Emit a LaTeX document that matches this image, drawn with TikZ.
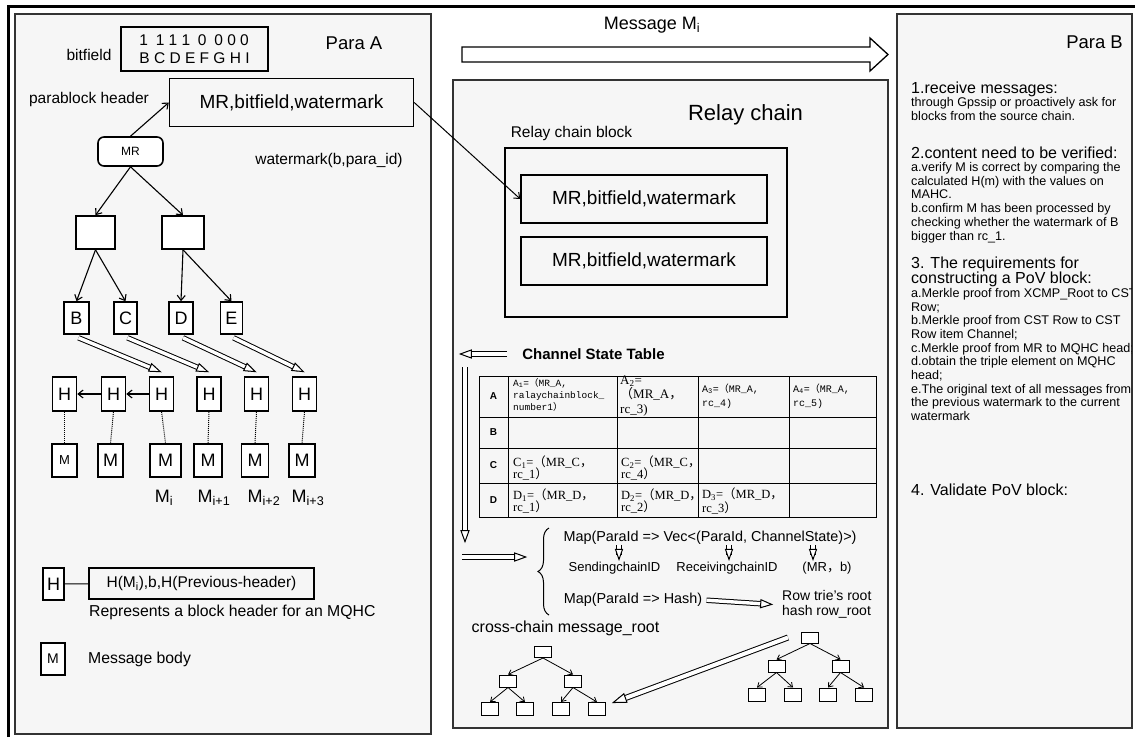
\documentclass[tikz,border=0pt]{standalone}
\usepackage{fontspec}
\setmainfont{Liberation Sans}
\setmonofont{Liberation Mono}
\newfontfamily\cjk{Noto Sans CJK SC}
\newfontfamily\serifcell{Liberation Serif}
\usetikzlibrary{arrows.meta,shapes.geometric,decorations.pathreplacing}
\newcommand{\fsz}[2]{\fontsize{#1}{#2}\selectfont}
\newcommand{\fw}[1]{{\cjk #1}}

\begin{document}
\begin{tikzpicture}[x=1pt,y=-1pt,
  >={Straight Barb[length=5pt,width=8pt]},
  panel/.style={draw=black!80,line width=1.5pt,fill=F6F6F6},
  box/.style={draw,line width=1.6pt,fill=white,inner sep=0pt},
  hbox/.style={box,minimum width=24,minimum height=34,font=\fsz{18}{18}},
  mbox/.style={box,minimum height=33,font=\fsz{18}{18}},
  frame/.style={draw,line width=1.4pt,inner sep=0pt},
  tnode/.style={draw,line width=1pt,fill=white,inner sep=0pt,minimum width=17,minimum height=12},
  arr/.style={->,line width=1.1pt},
  tarr/.style={->,line width=0.8pt,>={Straight Barb[length=4pt,width=6pt]}},
  dbl/.style={double,double distance=3.4pt,line width=1pt,shorten >=7pt},
  dtip/.style={pos=1,sloped,allow upside down,anchor=apex,isosceles triangle,isosceles triangle stretches,
    draw,fill=white,line width=1pt,inner sep=0pt,minimum width=8pt,minimum height=11pt},
  txt/.style={inner sep=1pt},
  cellmono/.style={anchor=west,inner sep=0pt,align=left,font=\ttfamily\fsz{9.5}{12}},
  cellserif/.style={anchor=west,inner sep=0pt,align=left,font=\serifcell\fsz{12.5}{12.5}},
  note/.style={anchor=base west,inner sep=0pt,align=left,font=\fsz{12.6}{13.7}},
  head/.style={anchor=base west,inner sep=0pt,align=left,font=\fsz{16}{15}}]
\definecolor{F6F6F6}{rgb}{0.965,0.965,0.965}
\fill[white] (0,0) rectangle (1135,737);
\useasboundingbox (0,0) rectangle (1135,737);
% panels
\draw[panel] (15,14) rectangle (431,734);
\draw[panel] (453,80) rectangle (888,728);
\draw[panel,line width=2.2pt] (897,14) rectangle (1132,728);
\draw[line width=3pt] (8,737) -- (8,6) -- (1135,6);

% Para A
\node[txt,font=\fsz{18.5}{18}] (paraA) at (354,43) {Para A};
\node[txt,font=\fsz{15.5}{16}] (bitlbl) at (89,55) {bitfield};
\node[frame,line width=1.2pt,minimum width=147,minimum height=44,align=left,font=\fsz{15.5}{18}] (bits) at (194.5,49) {1\enspace 1 1 1\enspace 0\enspace 0 0 0\\B C D E F G H I};
\node[txt,font=\fsz{15.5}{16}] (hdrlbl) at (89,99) {parablock header};
\node[frame,minimum width=244,minimum height=48,font=\fsz{19}{19}] (hdr) at (291.5,102.5) {MR,bitfield,watermark};
\node[box,rounded corners=6pt,minimum width=65,minimum height=29,font=\fsz{12}{12}] (mr) at (130.5,151.5) {MR};
\node[txt,font=\fsz{15.5}{16}] (wm) at (329,160) {watermark(b,para\_id)};
\node[box,minimum width=39,minimum height=33] (n1) at (95.5,232.5) {};
\node[box,minimum width=42,minimum height=33] (n2) at (183,232.5) {};
\node[hbox,minimum width=25,minimum height=32] (b) at (76.5,318) {B};
\node[hbox,minimum width=23,minimum height=32] (c) at (125.5,318) {C};
\node[hbox,minimum width=24,minimum height=32] (d) at (181,318) {D};
\node[hbox,minimum width=22,minimum height=32] (e) at (231.5,318) {E};
\draw[arr] (mr.north) -- (hdr.west);
\draw[arr] (mr.south) -- (n1.north);
\draw[arr] (mr.south) -- (n2.north);
\draw[arr] (n1.south) -- (b.north);
\draw[arr] (n1.south) -- (c.north);
\draw[arr] (n2.south) -- (d.north);
\draw[arr] (n2.south) -- (e.north);
\node[hbox] (h1) at (64.5,394) {H};
\node[hbox] (h2) at (113.5,394) {H};
\node[hbox] (h3) at (161.5,394) {H};
\node[hbox] (h4) at (209,394) {H};
\node[hbox] (h5) at (256.5,394) {H};
\node[hbox] (h6) at (304.5,394) {H};
\draw[dbl] ([xshift=2pt,yshift=-3pt]b.south) -- ([yshift=4pt]h3.north) node[dtip] {};
\draw[dbl] ([xshift=2pt,yshift=-3pt]c.south) -- ([yshift=4pt]h4.north) node[dtip] {};
\draw[dbl] ([xshift=2pt,yshift=-3pt]d.south) -- ([yshift=4pt]h5.north) node[dtip] {};
\draw[dbl] ([xshift=2pt,yshift=-3pt]e.south) -- ([yshift=4pt]h6.north) node[dtip] {};
\draw[arr] (h3.west) -- (h2.east);
\draw[arr] (h2.west) -- (h1.east);
\node[mbox,minimum width=25,font=\fsz{13}{13}] (m1) at (64.5,460.5) {M};
\node[mbox,minimum width=25] (m2) at (110.5,460.5) {M};
\node[mbox,minimum width=31] (m3) at (165.5,460.5) {M};
\node[mbox,minimum width=28] (m4) at (208,460.5) {M};
\node[mbox,minimum width=27] (m5) at (255,460.5) {M};
\node[mbox,minimum width=26] (m6) at (302,460.5) {M};
\draw[densely dotted,line width=1pt] (h1.south) -- (m1.north);
\draw[densely dotted,line width=1pt] (h2.south) -- (m2.north);
\draw[densely dotted,line width=1pt] (h3.south) -- (m3.north);
\draw[densely dotted,line width=1pt] (h4.south) -- (m4.north);
\draw[densely dotted,line width=1pt] (h5.south) -- (m5.north);
\draw[densely dotted,line width=1pt] (h6.south) -- (m6.north);
\node[txt,font=\fsz{18}{18}] (mi0) at (164,498) {M\textsubscript{i}};
\node[txt,font=\fsz{18}{18}] (mi1) at (214,498) {M\textsubscript{i+1}};
\node[txt,font=\fsz{18}{18}] (mi2) at (264,498) {M\textsubscript{i+2}};
\node[txt,font=\fsz{18}{18}] (mi3) at (308,498) {M\textsubscript{i+3}};
% legend
\node[box,minimum width=21,minimum height=32,font=\fsz{18}{18}] (legh) at (53.5,584) {H};
\node[frame,line width=1.2pt,minimum width=225,minimum height=31,font=\fsz{15.5}{16}] (leghtxt) at (201.5,583.5) {H(M\textsubscript{i}),b,H(Previous-header)};
\draw[line width=1pt] (legh) -- (leghtxt);
\node[txt,anchor=west,font=\fsz{15.8}{16}] (leghdesc) at (88,612) {Represents a block header for an MQHC};
\node[box,minimum width=24,minimum height=32,font=\fsz{14}{14}] (legm) at (53,659) {M};
\node[txt,anchor=west,font=\fsz{15.8}{16}] (legmdesc) at (87,659) {Message body};

% message arrow
\draw[line width=1.3pt,fill=white] (462,47) -- (870,47) -- (870,38) -- (888,54.5) -- (870,71) -- (870,62) -- (462,62) -- cycle;
\node[txt,font=\fsz{18}{18}] (msg) at (652,25) {Message M\textsubscript{i}};

% Relay chain
\node[txt,font=\fsz{22}{22}] (relay) at (745.5,115) {Relay chain};
\node[txt,font=\fsz{15.5}{16}] (rcblbl) at (571.5,133.5) {Relay chain block};
\node[frame,line width=1.6pt,minimum width=282,minimum height=169] (rcb) at (646,232.5) {};
\node[frame,minimum width=246,minimum height=48,font=\fsz{19}{19}] (in1) at (644,199) {MR,bitfield,watermark};
\node[frame,minimum width=246,minimum height=48,font=\fsz{19}{19}] (in2) at (644,261) {MR,bitfield,watermark};
\draw[arr,line width=1pt] (hdr.east) -- (in1.west);

% channel state table
\node[txt,font=\bfseries\fsz{15}{15}] (cst) at (593.5,354) {Channel State Table};
\coordinate (cstl) at (459,354);
\draw[dbl] ([xshift=-14pt]cst.west) -- (cstl) node[dtip] {};
\coordinate (vtop) at (465,367);
\coordinate (vbot) at (465,543);
\draw[dbl] (vtop) -- (vbot) node[dtip] {};
\draw[line width=1pt] (479,376) rectangle (876,517);
\draw[line width=1pt] (479,417) -- (876,417);
\draw[line width=1pt] (479,448) -- (876,448);
\draw[line width=1pt] (479,483) -- (876,483);
\draw[line width=1pt] (508,376) -- (508,517);
\draw[line width=1pt] (617,376) -- (617,517);
\draw[line width=1pt] (698,376) -- (698,517);
\draw[line width=1pt] (789,376) -- (789,517);
\node[txt,font=\bfseries\fsz{10}{10}] (rowA) at (493.5,396.5) {A};
\node[txt,font=\bfseries\fsz{10}{10}] (rowB) at (493.5,432.5) {B};
\node[txt,font=\bfseries\fsz{10}{10}] (rowC) at (493.5,465.5) {C};
\node[txt,font=\bfseries\fsz{10}{10}] (rowD) at (493.5,500) {D};
\node[cellmono] (ca1) at (513,395) {A\textsubscript{1}=\fw{（}MR\_A,\\ralaychainblock\_\\number1\fw{）}};
\node[cellserif,font=\serifcell\fsz{13}{14.5}] (ca2) at (620,396) {A\textsubscript{2}=\\\fw{（}MR\_A\fw{，}\\rc\_3)};
\node[cellmono,font=\ttfamily\fsz{10}{14}] (ca3) at (702,396) {A\textsubscript{3}=\fw{（}MR\_A,\\rc\_4)};
\node[cellmono,font=\ttfamily\fsz{10}{14}] (ca4) at (793,396) {A\textsubscript{4}=\fw{（}MR\_A,\\rc\_5)};
\node[cellserif] (cc1) at (513,468) {C\textsubscript{1}=\fw{（}MR\_C\fw{，}\\rc\_1\fw{）}};
\node[cellserif] (cc2) at (621,468) {C\textsubscript{2}=\fw{（}MR\_C\fw{，}\\rc\_4\fw{）}};
\node[cellserif] (cd1) at (513,501) {D\textsubscript{1}=\fw{（}MR\_D\fw{，}\\rc\_1\fw{）}};
\node[cellserif] (cd2) at (621,501) {D\textsubscript{2}=\fw{（}MR\_D\fw{，}\\rc\_2\fw{）}};
\node[cellserif] (cd3) at (702,501) {D\textsubscript{3}=\fw{（}MR\_D\fw{，}\\rc\_3\fw{）}};

% maps
\draw[line width=1pt,decorate,decoration={brace,amplitude=11pt}] (549,615) -- (549,528);
\coordinate (hst) at (462,557);
\coordinate (hend) at (527,557);
\draw[dbl] (hst) -- (hend) node[dtip] {};
\node[txt,font=\fsz{14.4}{15}] (map1) at (710,537.5) {Map(ParaId => Vec<(ParaId, ChannelState)>)};
\node[txt,font=\fsz{13}{13}] (sid) at (614.5,568) {SendingchainID};
\node[txt,font=\fsz{13}{13}] (rid) at (727,568) {ReceivingchainID};
\node[txt,font=\fsz{13}{13}] (mrb) at (827,568) {(MR\fw{，}b)};
\draw[dbl,shorten >=6pt] ([xshift=4.5pt]sid.north) ++(0,-16) -- ([xshift=4.5pt]sid.north) node[dtip,minimum width=7pt,minimum height=10pt] {};
\draw[dbl,shorten >=6pt] ([xshift=2pt]rid.north) ++(0,-16) -- ([xshift=2pt]rid.north) node[dtip,minimum width=7pt,minimum height=10pt] {};
\draw[dbl,shorten >=6pt] ([xshift=-14pt]mrb.north) ++(0,-16) -- ([xshift=-14pt]mrb.north) node[dtip,minimum width=7pt,minimum height=10pt] {};
\node[txt,font=\fsz{14.4}{15}] (map2) at (633,600) {Map(ParaId => Hash)};
\node[txt,anchor=west,align=left,font=\fsz{14}{15}] (rowroot) at (781,604.5) {Row trie's root\\hash row\_root};
\draw[dbl,shorten <=3pt] (map2.east) -- ([xshift=-8pt]rowroot.west) node[dtip] {};
\node[txt,font=\fsz{16}{16}] (cmroot) at (565.5,628) {cross-chain message\_root};

% trees
\node[tnode,minimum height=11] (lt0) at (543,652) {};
\node[tnode] (lt1) at (508,681) {};
\node[tnode] (lt2) at (573,681) {};
\node[tnode,minimum height=13] (lt3) at (490,709) {};
\node[tnode,minimum height=13] (lt4) at (525,709) {};
\node[tnode,minimum height=13] (lt5) at (561,709) {};
\node[tnode,minimum height=13] (lt6) at (597,709) {};
\draw[tarr] (lt0.south) -- (lt1.north);
\draw[tarr] (lt0.south) -- (lt2.north);
\draw[tarr] (lt1.south) -- (lt3.north);
\draw[tarr] (lt1.south) -- (lt4.north);
\draw[tarr] (lt2.south) -- (lt5.north);
\draw[tarr] (lt2.south) -- (lt6.north);
\node[tnode,minimum height=11] (rt0) at (810,637.5) {};
\node[tnode] (rt1) at (776.5,666) {};
\node[tnode] (rt2) at (840.5,666) {};
\node[tnode,minimum height=13] (rt3) at (757,694.5) {};
\node[tnode,minimum height=13] (rt4) at (793,694.5) {};
\node[tnode,minimum height=13] (rt5) at (828,694.5) {};
\node[tnode,minimum height=13] (rt6) at (864,694.5) {};
\draw[tarr] (rt0.south) -- (rt1.north);
\draw[tarr] (rt0.south) -- (rt2.north);
\draw[tarr] (rt1.south) -- (rt3.north);
\draw[tarr] (rt1.south) -- (rt4.north);
\draw[tarr] (rt2.south) -- (rt5.north);
\draw[tarr] (rt2.south) -- (rt6.north);
\draw[dbl,double distance=4pt,shorten >=8pt] ([xshift=-13pt]rt0.west) -- ([xshift=6pt,yshift=6pt]lt6.east) node[dtip,minimum width=9pt,minimum height=13pt] {};

% Para B (multi-line nodes sit on their last baseline)
\begin{scope}
\clip (897,14) rectangle (1131,728);
\node[inner sep=0pt,anchor=base east,font=\fsz{18.5}{18}] (paraB) at (1123,48) {Para B};
\node[head] (t1) at (911,93.5) {1.receive messages:};
\node[note] (b1) at (911,120.2) {through Gpssip or proactively ask for\\blocks from the source chain.};
\node[head] (t2) at (911,158) {2.content need to be verified:};
\node[note] (b2) at (911,240) {a.verify M is correct by comparing the\\calculated H(m) with the values on\\MAHC.\\b.confirm M has been processed by\\checking whether the watermark of B\\bigger than rc\_1.};
\node[head] (t3) at (911,283.5) {3. The requirements for\\constructing a PoV block:};
\node[note,font=\fsz{12.6}{13.67}] (b3) at (911,420.5) {a.Merkle proof from XCMP\_Root to CST\\Row;\\b.Merkle proof from CST Row to CST\\Row item Channel;\\c.Merkle proof from MR to MQHC head;\\d.obtain the triple element on MQHC\\head;\\e.The original text of all messages from\\the previous watermark to the current\\watermark};
\node[head] (t4) at (911,495.5) {4. Validate PoV block:};
\end{scope}
\end{tikzpicture}
\end{document}
